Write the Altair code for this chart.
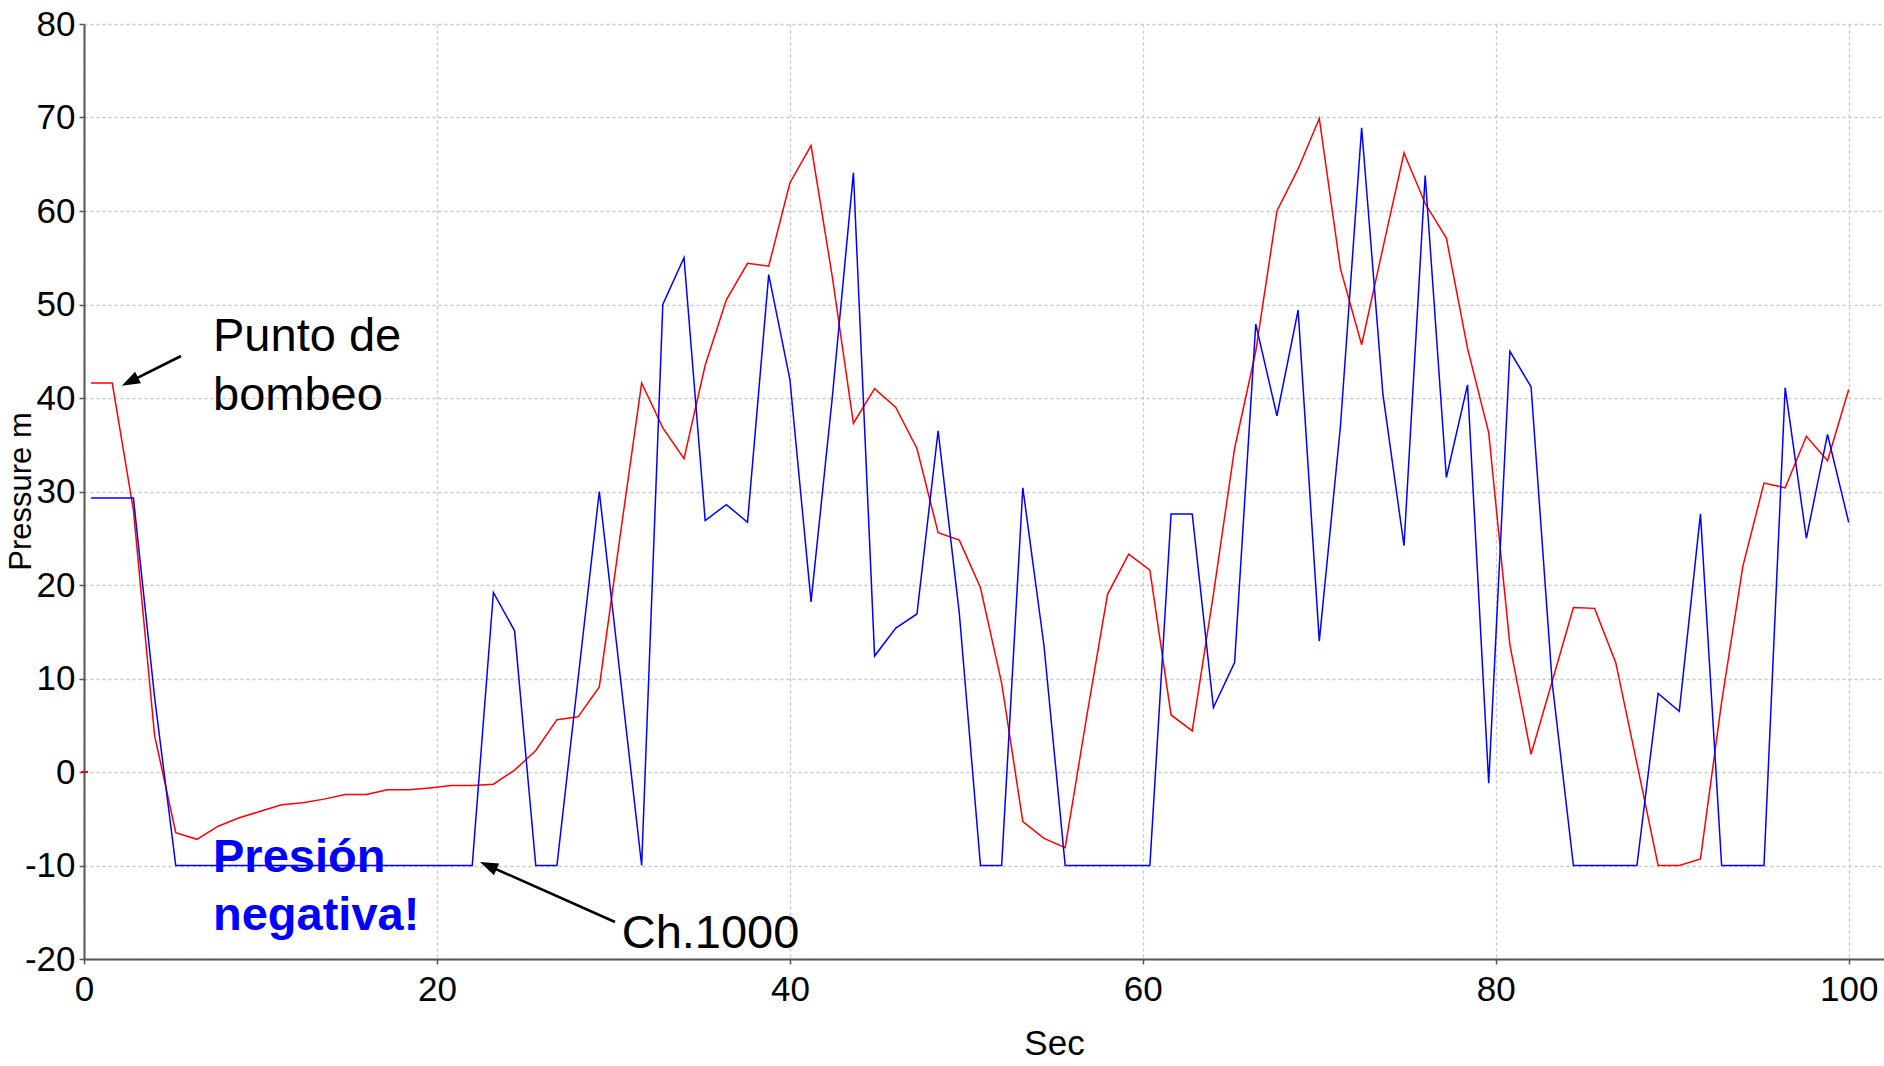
import altair as alt
import pandas as pd

# ---------------- data ----------------
times = [0.4, 1.6, 2.8, 4.0, 5.2, 6.4, 7.6, 8.8, 10.0, 11.2, 12.4, 13.6, 14.8, 16.0,
         17.2, 18.4, 19.6, 20.8, 22.0, 23.2, 24.4, 25.6, 26.8, 28.0, 29.2, 30.4, 31.6,
         32.8, 34.0, 35.2, 36.4, 37.6, 38.8, 40.0, 41.2, 42.4, 43.6, 44.8, 46.0, 47.2,
         48.4, 49.6, 50.8, 52.0, 53.2, 54.4, 55.6, 56.8, 58.0, 59.2, 60.4, 61.6, 62.8,
         64.0, 65.2, 66.4, 67.6, 68.8, 70.0, 71.2, 72.4, 73.6, 74.8, 76.0, 77.2, 78.4,
         79.6, 80.8, 82.0, 83.2, 84.4, 85.6, 86.8, 88.0, 89.2, 90.4, 91.6, 92.8, 94.0,
         95.2, 96.4, 97.6, 98.8, 100.0]

red_pressure = [41.6, 41.6, 28.0, 3.9, -6.5, -7.2, -5.8, -4.9, -4.2, -3.5, -3.3, -2.9,
                -2.4, -2.4, -1.9, -1.9, -1.7, -1.45, -1.45, -1.3, 0.2, 2.3, 5.6, 5.9,
                9.1, 25.5, 41.6, 36.8, 33.5, 43.5, 50.5, 54.4, 54.1, 63.0, 67.0, 53.0,
                37.3, 41.0, 39.0, 34.6, 25.6, 24.8, 19.7, 9.5, -5.3, -7.1, -8.1, 5.7,
                19.0, 23.3, 21.6, 6.1, 4.4, 19.0, 34.6, 45.0, 60.0, 64.5, 69.9, 53.8,
                45.7, 56.0, 66.2, 60.8, 57.1, 45.3, 36.3, 13.6, 1.9, 9.7, 17.6, 17.5,
                11.7, 0.9, -10.0, -10.0, -9.3, 7.5, 22.0, 30.9, 30.4, 35.9, 33.3, 40.9]

blue_pressure = [29.3, 29.3, 29.3, 8.0, -10, -10, -10, -10, -10, -10, -10, -10, -10, -10,
                 -10, -10, -10, -10, -10, 19.2, 15.1, -10, -10, 10.0, 30.0, 10.0, -10,
                 50.0, 55.0, 26.9, 28.6, 26.7, 53.2, 42.0, 18.2, 40.0, 64.1, 12.4, 15.4,
                 16.9, 36.5, 17.0, -10, -10, 30.4, 13.5, -10, -10, -10, -10, -10, 27.6,
                 27.6, 6.9, 11.7, 47.9, 38.1, 49.4, 14.0, 37.0, 68.9, 40.5, 24.2, 63.8,
                 31.5, 41.4, -1.2, 45.0, 41.2, 9.5, -10, -10, -10, -10, 8.4, 6.5, 27.6,
                 -10, -10, -10, 41.1, 25.0, 36.1, 26.7]

x_ticks = [0, 20, 40, 60, 80, 100]
y_ticks = [-20, -10, 0, 10, 20, 30, 40, 50, 60, 70, 80]

# annotation texts (data coordinates of left/baseline)
label_text = ["Punto de", "bombeo", "Ch.1000"]
label_x = [7.31, 7.31, 30.47]
label_y = [45.03, 38.72, -18.83]

note_text = ["Presión", "negativa!"]
note_x = [7.31, 7.31]
note_y = [-10.74, -16.94]

# arrows: tail -> line end, arrow tip, head angle
arrow_x = [5.50, 30.09]
arrow_y = [44.49, -16.04]
arrow_x2 = [2.54, 22.85]
arrow_y2 = [41.70, -9.97]
tip_x = [2.14, 22.44]
tip_y = [41.32, -9.63]
tip_angle = [243.4, 294.0]

AXFONT = "Liberation Sans Narrow, Liberation Sans, Arial, sans-serif"
SANS = "Liberation Sans, Arial, Helvetica, sans-serif"

rows = []
for t, r in zip(times, red_pressure):
    rows.append({"t": t, "p": r, "s": "red"})
for t, b in zip(times, blue_pressure):
    rows.append({"t": t, "p": b, "s": "blue"})
df = pd.DataFrame(rows)

x_scale = alt.Scale(domain=[0, 102], nice=False, zero=False)
y_scale = alt.Scale(domain=[-20, 80], nice=False, zero=False)

grid_kw = dict(grid=True, gridDash=[3, 3], gridColor="#c6c6c6", gridWidth=1.3,
               domainColor="#555555", domainWidth=2, tickColor="#555555",
               tickSize=5, tickWidth=1.5, labelColor="black", labelFont=AXFONT,
               labelFontSize=35, labelFlush=False, titleColor="black",
               titleFontWeight="normal", labelExpr="'' + datum.value")

x_axis = alt.Axis(values=x_ticks, title="Sec", labelPadding=8, titleFont=AXFONT,
                  titleFontSize=35, titleX=970, titleY=95, titleBaseline="alphabetic",
                  titleAlign="center", **grid_kw)
y_axis = alt.Axis(values=y_ticks, title="Pressure m", labelPadding=4, titleFont=SANS,
                  titleFontSize=31, titleX=-54, titleY=467, titleAngle=270,
                  titleBaseline="alphabetic", titleAlign="center", **grid_kw)


def X(field="t"):
    return alt.X(field + ":Q", scale=x_scale, axis=x_axis, title="Sec")


def Y(field="p"):
    return alt.Y(field + ":Q", scale=y_scale, axis=y_axis, title="Pressure m")


lines = alt.Chart(df).mark_line(strokeWidth=1.5, interpolate="linear").encode(
    x=X(), y=Y(),
    color=alt.Color("s:N", scale=alt.Scale(domain=["red", "blue"],
                                           range=["#ff0000", "#0000ff"]), legend=None),
    order=alt.Order("t:Q"),
    detail="s:N",
)

zero_mark = alt.Chart(pd.DataFrame({"t": [-0.17], "t2": [0.23], "p": [0]})).mark_rule(
    color="#ff0000", strokeWidth=2).encode(x=X(), x2="t2:Q", y=Y())

arrows_df = pd.DataFrame({"t": arrow_x, "p": arrow_y, "t2": arrow_x2, "p2": arrow_y2})
arrow_lines = alt.Chart(arrows_df).mark_rule(color="black", strokeWidth=2.6).encode(
    x=X(), x2="t2:Q", y=Y(), y2="p2:Q")

heads_df = pd.DataFrame({"t": tip_x, "p": tip_y, "a": tip_angle})
heads = alt.Chart(heads_df).mark_point(
    shape="M0,0L-0.7,2L0.7,2Z", filled=True, color="black", opacity=1,
    size=330, strokeWidth=0).encode(
    x=X(), y=Y(), angle=alt.Angle("a:Q", scale=None))

labels = alt.Chart(pd.DataFrame({"t": label_x, "p": label_y, "txt": label_text})).mark_text(
    align="left", baseline="alphabetic", font=SANS, fontSize=47, color="black").encode(
    x=X(), y=Y(), text="txt:N")

notes = alt.Chart(pd.DataFrame({"t": note_x, "p": note_y, "txt": note_text})).mark_text(
    align="left", baseline="alphabetic", font=SANS, fontSize=47, fontWeight="bold",
    color="#0000ff").encode(x=X(), y=Y(), text="txt:N")

chart = alt.layer(lines, zero_mark, arrow_lines, heads, labels, notes).properties(
    width=1800, height=935,
    autosize=alt.AutoSizeParams(type="none"),
    padding={"left": 84, "top": 24, "right": 0, "bottom": 107},
    background="white",
).configure_view(strokeOpacity=0)

chart.save("out.html", embed_options={"renderer": "svg", "actions": False})
